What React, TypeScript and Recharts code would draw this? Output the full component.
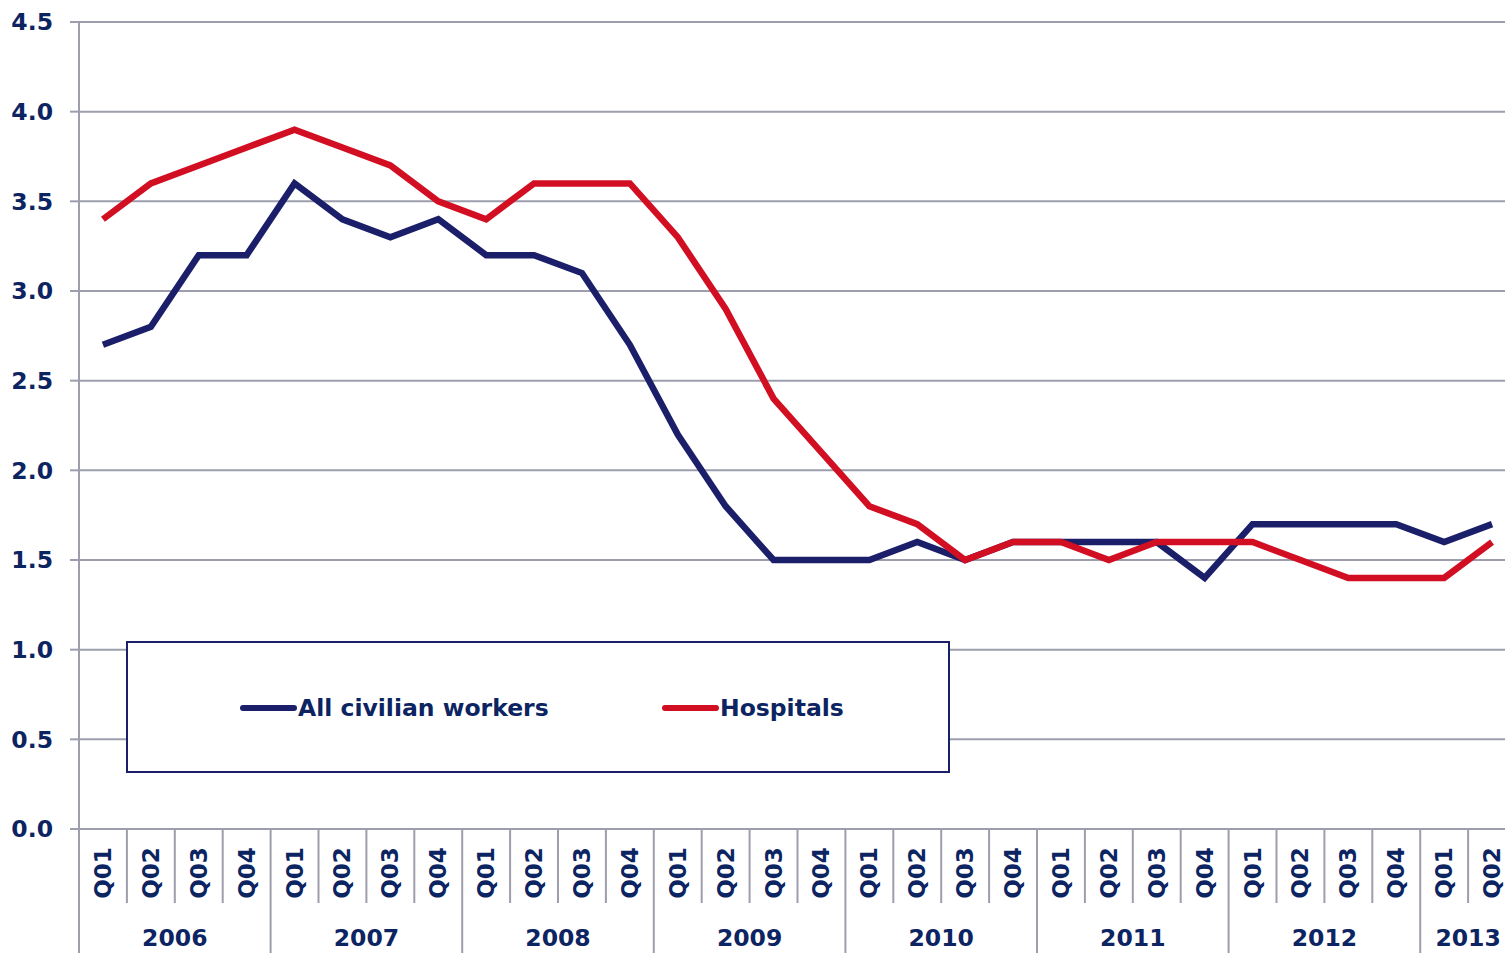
import { LineChart, Line, XAxis, YAxis, CartesianGrid } from "recharts";

const years = ["2006", "2007", "2008", "2009", "2010", "2011", "2012", "2013"];
const quarters = ["Q01", "Q02", "Q03", "Q04"];

const allCivilian = [
  2.7, 2.8, 3.2, 3.2, 3.6, 3.4, 3.3, 3.4, 3.2, 3.2, 3.1, 2.7, 2.2, 1.8, 1.5,
  1.5, 1.5, 1.6, 1.5, 1.6, 1.6, 1.6, 1.6, 1.4, 1.7, 1.7, 1.7, 1.7, 1.6, 1.7,
];
const hospitals = [
  3.4, 3.6, 3.7, 3.8, 3.9, 3.8, 3.7, 3.5, 3.4, 3.6, 3.6, 3.6, 3.3, 2.9, 2.4,
  2.1, 1.8, 1.7, 1.5, 1.6, 1.6, 1.5, 1.6, 1.6, 1.6, 1.5, 1.4, 1.4, 1.4, 1.6,
];
const yTicks = [0, 0.5, 1, 1.5, 2, 2.5, 3, 3.5, 4, 4.5];

const data = allCivilian.map((v, i) => ({
  key: `${years[Math.floor(i / 4)]}-${quarters[i % 4]}`,
  quarter: quarters[i % 4],
  year: years[Math.floor(i / 4)],
  all: v,
  hosp: hospitals[i],
}));

// the original plot runs a little past the right edge of the picture
const VIEW_W = 1505;
const W = 1516;
const H = 953;
const LEFT = 79;
const TOP = 22;
const AXIS_H = 124;
const BW = (W - LEFT) / data.length;

const NAVY = "#1b1f6a";
const RED = "#d20f22";
const TEXT = "#0c2461";
const GRID = "#9c9eae";
const FONT = "'DejaVu Sans', Verdana, sans-serif";

const series = [
  { key: "all", name: "All civilian workers", color: NAVY, left: 112 },
  { key: "hosp", name: "Hospitals", color: RED, left: 534 },
];

const QuarterTick = (props: any) => {
  const { x, index } = props;
  const y = H - AXIS_H;
  const d = data[index];
  const left = x - BW / 2;
  const isFirst = d.quarter === "Q01";
  const yearLen = data.filter((e) => e.year === d.year).length;
  return (
    <g>
      <line
        x1={left}
        x2={left}
        y1={y}
        y2={isFirst ? y + AXIS_H : y + 74}
        stroke={GRID}
        strokeWidth={2}
      />
      <text
        x={0}
        y={0}
        transform={`translate(${x},${y + 44}) rotate(-90)`}
        textAnchor="middle"
        dominantBaseline="central"
        fill={TEXT}
        fontFamily={FONT}
        fontWeight="bold"
        fontSize={23}
      >
        {d.quarter}
      </text>
      {isFirst && (
        <text
          x={left + (yearLen * BW) / 2}
          y={y + 109}
          textAnchor="middle"
          dominantBaseline="central"
          fill={TEXT}
          fontFamily={FONT}
          fontWeight="bold"
          fontSize={23.5}
        >
          {d.year}
        </text>
      )}
    </g>
  );
};

const LegendBox = () => (
  <div
    style={{
      position: "absolute",
      left: 126,
      top: 641,
      width: 820,
      height: 128,
      border: `2px solid ${NAVY}`,
      background: "#fff",
      fontFamily: FONT,
      fontWeight: "bold",
      fontSize: 23.5,
      color: TEXT,
    }}
  >
    {series.map((it) => (
      <div
        key={it.name}
        style={{
          position: "absolute",
          left: it.left,
          top: 50,
          display: "flex",
          alignItems: "center",
          height: 30,
        }}
      >
        <span
          style={{
            display: "inline-block",
            width: 57,
            height: 6,
            borderRadius: 3,
            background: it.color,
            marginRight: 1,
          }}
        />
        <span>{it.name}</span>
      </div>
    ))}
  </div>
);

export default function App() {
  return (
    <div
      style={{
        position: "absolute",
        left: 0,
        top: 0,
        width: VIEW_W,
        height: H,
        overflow: "hidden",
        background: "#fff",
      }}
    >
      <LineChart
        width={W}
        height={H}
        data={data}
        margin={{ top: TOP, right: 0, left: 0, bottom: 0 }}
      >
        <CartesianGrid vertical={false} stroke={GRID} strokeWidth={2} />
        <XAxis
          dataKey="key"
          height={AXIS_H}
          interval={0}
          padding={{ left: BW / 2, right: BW / 2 }}
          axisLine={{ stroke: GRID, strokeWidth: 2 }}
          tickLine={false}
          tick={<QuarterTick />}
        />
        <YAxis
          width={LEFT}
          domain={[0, 4.5]}
          ticks={yTicks}
          interval={0}
          tickFormatter={(v: number) => v.toFixed(1)}
          axisLine={{ stroke: GRID, strokeWidth: 2 }}
          tickLine={{ stroke: GRID, strokeWidth: 2 }}
          tickSize={9}
          tickMargin={17}
          tick={{
            fill: TEXT,
            fontFamily: FONT,
            fontWeight: "bold",
            fontSize: 23.5,
          }}
        />
        {series.map((s) => (
          <Line
            key={s.key}
            dataKey={s.key}
            name={s.name}
            stroke={s.color}
            strokeWidth={6.5}
            dot={false}
            isAnimationActive={false}
          />
        ))}
      </LineChart>
      <LegendBox />
    </div>
  );
}
